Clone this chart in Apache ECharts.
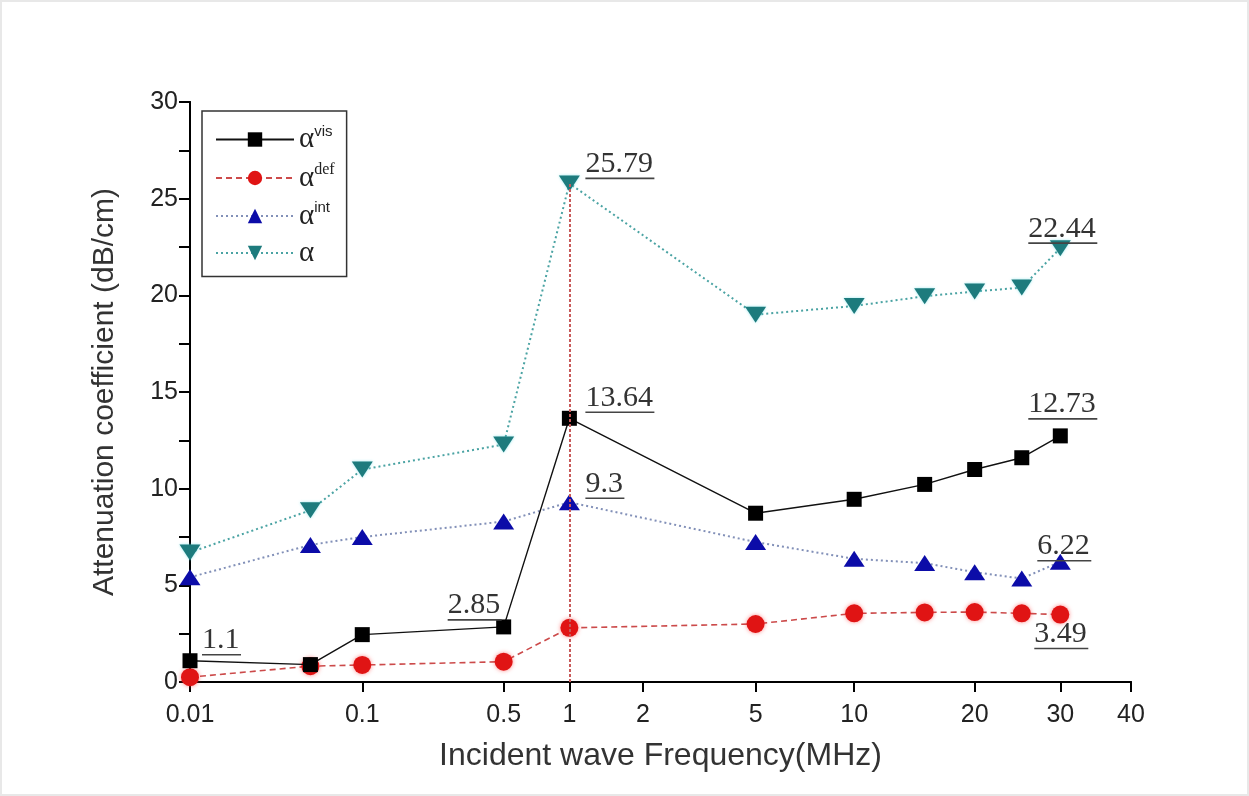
<!DOCTYPE html>
<html>
<head>
<meta charset="utf-8">
<script src="https://cdn.jsdelivr.net/npm/echarts@6/dist/echarts.min.js"></script>
<style>
  html, body { margin: 0; padding: 0; background: #fff; }
  #chart { width: 1249px; height: 796px; box-sizing: border-box; border: 2px solid #e8e8e8; }
</style>
</head>
<body>
<div id="chart"></div>
<script>
// frequencies (MHz) of the measured points
const freqs = [0.01, 0.05, 0.1, 0.5, 1, 5, 10, 15, 20, 25, 30];
// attenuation coefficients (dB/cm)
const alphaVis = [1.1, 0.9, 2.45, 2.85, 13.64, 8.73, 9.45, 10.22, 10.99, 11.6, 12.73];
const alphaDef = [0.25, 0.82, 0.88, 1.05, 2.8, 3.0, 3.55, 3.6, 3.62, 3.55, 3.49];
const alphaInt = [5.42, 7.09, 7.5, 8.3, 9.3, 7.24, 6.37, 6.15, 5.68, 5.35, 6.22];
const alphaTot = [6.7, 8.88, 10.99, 12.28, 25.79, 19.0, 19.45, 19.95, 20.2, 20.4, 22.44];

// x tick labels
const tickLabels = ['0.01', '0.1', '0.5', '1', '2', '5', '10', '20', '30', '40'];
const tickFreqs = tickLabels.map(Number);
// the original axis is hand spaced: where each tick sits along the axis
const tickStops = [0, 173, 315, 381, 455, 568, 667, 788, 874, 945];

// frequency -> position on the axis (log between neighbouring ticks)
function axisPos(f) {
  for (let i = 0; i < tickFreqs.length - 1; i++) {
    const a = tickFreqs[i], b = tickFreqs[i + 1];
    if (f >= a && f <= b) {
      const t = Math.log(f / a) / Math.log(b / a);
      return tickStops[i] + t * (tickStops[i + 1] - tickStops[i]);
    }
  }
  return tickStops[tickStops.length - 1];
}

// which points get an underlined value, and where the label's left edge sits (px offset)
const callouts = {
  vis: { 0: [12, -19], 3: [-56, -20], 4: [16, -19], 10: [-32, -30] },
  def: { 10: [-26, 21] },
  int: { 4: [16, -17], 10: [-23, -14] },
  tot: { 4: [16, -18], 10: [-32, -18] }
};

function points(values, key) {
  return values.map((v, i) => {
    const item = { value: [axisPos(freqs[i]), v] };
    const off = callouts[key][i];
    if (off) {
      const txt = String(v);
      // underline as wide as the number
      const w = txt.replace('.', '').length * 15 + 9;
      item.label = {
        show: true,
        position: 'inside',
        align: 'left',
        verticalAlign: 'middle',
        offset: off,
        formatter: () => '{v|' + txt + '}\n{u| }',
        rich: {
          v: { fontFamily: 'Liberation Serif', fontSize: 30, lineHeight: 26, color: '#333' },
          u: { width: w, height: 1.6, lineHeight: 3, fontSize: 1, backgroundColor: '#444' }
        }
      };
    }
    return item;
  });
}

const legendText = {
  'αvis': '{a|α}{s|vis}',
  'αdef': '{a|α}{t|def}',
  'αint': '{a|α}{s|int}',
  'α': '{a|α}'
};

const idx1 = freqs.indexOf(1);

const chart = echarts.init(document.getElementById('chart'));
chart.setOption({
  animation: false,
  backgroundColor: '#fff',
  grid: { left: 188, right: 116, top: 100, bottom: 112, containLabel: false, outerBoundsMode: 'none' },
  legend: {
    left: 200,
    top: 109,
    orient: 'vertical',
    itemWidth: 78,
    itemHeight: 18,
    itemGap: 8,
    padding: [13, 12, 9, 13],
    borderColor: '#333',
    borderWidth: 1.5,
    formatter: name => legendText[name],
    textStyle: {
      color: '#222',
      rich: {
        a: { fontFamily: 'Liberation Serif', fontSize: 29, lineHeight: 30, color: '#222' },
        s: { fontFamily: 'Liberation Sans', fontSize: 15, color: '#222', padding: [0, 0, 16, 0] },
        t: { fontFamily: 'Liberation Serif', fontSize: 16, color: '#222', padding: [0, 0, 16, 0] }
      }
    },
    data: ['αvis', 'αdef', 'αint', 'α']
  },
  xAxis: [
    {
      type: 'value',
      min: 0,
      max: tickStops[tickStops.length - 1],
      name: 'Incident wave Frequency(MHz)',
      nameLocation: 'middle',
      nameGap: 58,
      nameTextStyle: { fontFamily: 'Liberation Sans', fontSize: 32, color: '#333' },
      axisLine: { lineStyle: { color: '#000', width: 2 } },
      axisTick: { customValues: tickStops, length: 10, lineStyle: { color: '#000', width: 2 } },
      axisLabel: {
        customValues: tickStops,
        formatter: v => tickLabels[tickStops.indexOf(v)],
        fontFamily: 'Liberation Sans',
        fontSize: 25,
        color: '#222',
        margin: 21
      },
      splitLine: { show: false }
    },
    {
      type: 'value',
      position: 'top',
      min: 0,
      max: tickStops[tickStops.length - 1],
      axisLine: { lineStyle: { color: '#000', width: 2 } },
      axisTick: { inside: true, customValues: tickStops, length: 9, lineStyle: { color: '#000', width: 2 } },
      axisLabel: { show: false },
      splitLine: { show: false }
    }
  ],
  yAxis: [
    {
      type: 'value',
      min: 0,
      max: 30,
      interval: 5,
      name: 'Attenuation coefficient (dB/cm)',
      nameLocation: 'middle',
      nameGap: 70,
      nameTextStyle: { fontFamily: 'Liberation Sans', fontSize: 30, color: '#333' },
      axisLine: { show: true, lineStyle: { color: '#000', width: 2 } },
      axisTick: { show: true, length: 10, lineStyle: { color: '#000', width: 2 } },
      minorTick: { show: true, splitNumber: 2, length: 7, lineStyle: { color: '#000', width: 1.5 } },
      axisLabel: { fontFamily: 'Liberation Sans', fontSize: 25, color: '#222', margin: 12 },
      splitLine: { show: false }
    },
    {
      type: 'value',
      position: 'right',
      min: 0,
      max: 30,
      interval: 2.5,
      axisLine: { show: true, lineStyle: { color: '#000', width: 2 } },
      axisTick: { show: true, inside: true, length: 11, lineStyle: { color: '#000', width: 2 } },
      axisLabel: { show: false },
      splitLine: { show: false }
    }
  ],
  series: [
    {
      name: 'αvis',
      type: 'line',
      data: points(alphaVis, 'vis'),
      symbol: 'rect',
      symbolSize: 15,
      itemStyle: { color: '#000' },
      lineStyle: { color: '#111', width: 1.4, type: 'solid' },
      z: 4
    },
    {
      name: 'αdef',
      type: 'line',
      data: points(alphaDef, 'def'),
      symbol: 'circle',
      symbolSize: 18,
      itemStyle: { color: '#e01414', shadowBlur: 4, shadowColor: 'rgba(255,60,60,0.6)' },
      lineStyle: { color: '#cc4a4a', width: 1.6, type: [6, 4] },
      markLine: {
        silent: true,
        symbol: 'none',
        label: { show: false },
        lineStyle: { color: '#c85a5a', width: 2, type: [3, 2] },
        data: [[
          { coord: [axisPos(freqs[idx1]), 0] },
          { coord: [axisPos(freqs[idx1]), alphaTot[idx1]] }
        ]]
      },
      z: 3
    },
    {
      name: 'αint',
      type: 'line',
      data: points(alphaInt, 'int'),
      symbol: 'triangle',
      symbolSize: [21, 16],
      itemStyle: { color: '#0c0ca8' },
      lineStyle: { color: '#8290b8', width: 2, type: [2, 3] },
      z: 3
    },
    {
      name: 'α',
      type: 'line',
      data: points(alphaTot, 'tot'),
      symbol: 'triangle',
      symbolRotate: 180,
      symbolSize: [21, 16],
      itemStyle: { color: '#1d7b7d', shadowBlur: 3, shadowColor: 'rgba(90,220,230,0.6)' },
      lineStyle: { color: '#4aa3a3', width: 2, type: [2, 3] },
      z: 3
    }
  ]
});
</script>
</body>
</html>
